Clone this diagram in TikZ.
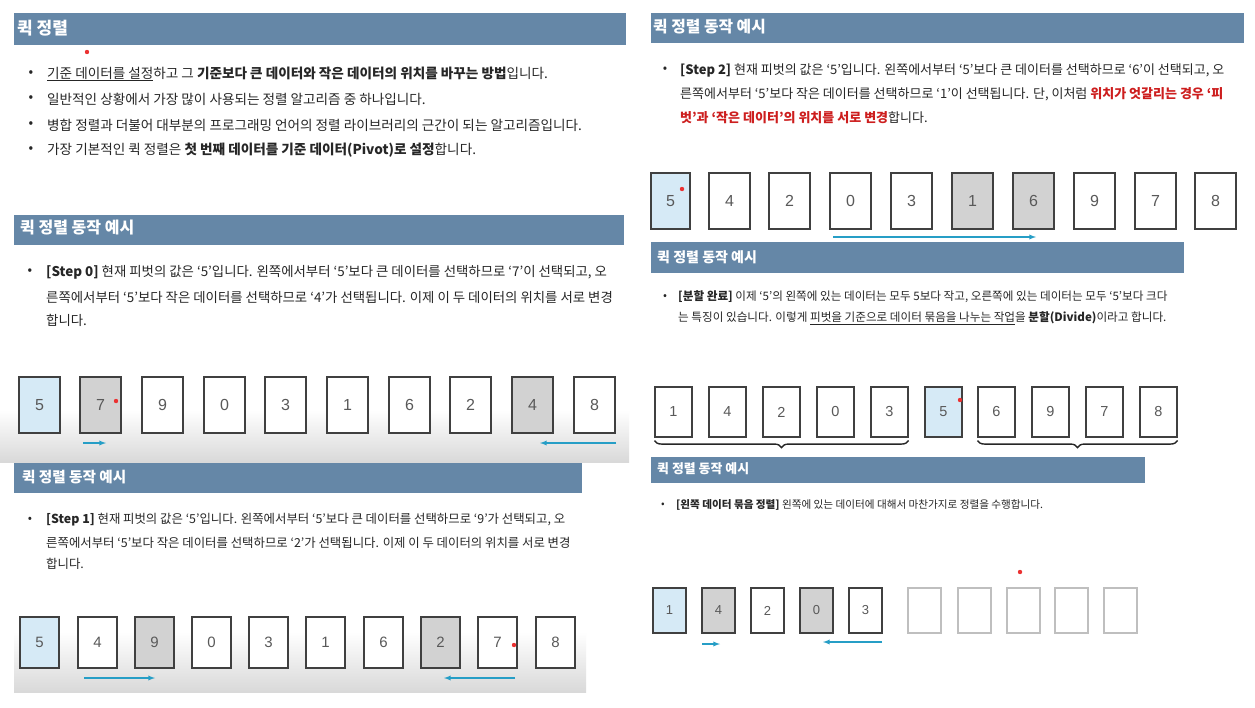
\documentclass[tikz,border=0pt]{standalone}
\usepackage{fontspec}
\setmainfont{Noto Sans CJK KR}
\newfontfamily\digitfont{Liberation Sans}
\usetikzlibrary{decorations.pathreplacing}
\definecolor{barblue}{RGB}{101,135,167}
\definecolor{pivotblue}{RGB}{214,234,246}
\definecolor{pickgray}{RGB}{210,210,210}
\definecolor{movecyan}{RGB}{38,158,198}
\definecolor{laserred}{RGB}{235,50,50}
\definecolor{keyred}{RGB}{205,30,30}
\begin{document}
\begin{tikzpicture}[x=1pt,y=-1pt]
        \tikzstyle{title}=[anchor=west,inner sep=0pt,text=white]
        \tikzstyle{line}=[anchor=west,inner sep=0pt,text=black!85]
        \tikzstyle{dot}=[anchor=center,inner sep=0pt,text=black!85]
        \tikzstyle{card}=[rectangle,draw=black!75,line width=1.1pt,fill=white,inner sep=0pt,text=black!65]
        \tikzstyle{pivot}=[card,fill=pivotblue]
        \tikzstyle{picked}=[card,fill=pickgray]
        \tikzstyle{blank}=[card,draw=black!25]
        \tikzstyle{move}=[draw=movecyan,line width=1.3pt,->,>=latex]
        \tikzstyle{laser}=[fill=laserred]

        \fill[white] (0,0) rectangle (1255,707);
        \useasboundingbox (0,0) rectangle (1255,707);

        % header bars
        \fill[barblue] (14,13) rectangle (626,45);
        \fill[barblue] (14,215) rectangle (624,245);
        \fill[barblue] (14,462) rectangle (582,493);
        \fill[barblue] (651,13) rectangle (1244,43);
        \fill[barblue] (651,242) rectangle (1184,273);
        \fill[barblue] (651,457) rectangle (1145,483);

        % shaded floors under the cards
        \shade[top color=white,bottom color=black!15] (0,410) rectangle (629,462);
        \shade[top color=white,bottom color=black!15] (14,632) rectangle (586,692);

        \node [title,font=\fontsize{17}{20}\selectfont\bfseries] (h1) at (17,28) {퀵 정렬};
        \node [title,font=\fontsize{16}{19}\selectfont\bfseries] (h2) at (20,228) {퀵 정렬 동작 예시};
        \node [title,font=\fontsize{14.6}{17}\selectfont\bfseries] (h3) at (22,477) {퀵 정렬 동작 예시};
        \node [title,font=\fontsize{15.8}{19}\selectfont\bfseries] (h4) at (653,27) {퀵 정렬 동작 예시};
        \node [title,font=\fontsize{14}{17}\selectfont\bfseries] (h5) at (657,257) {퀵 정렬 동작 예시};
        \node [title,font=\fontsize{12.9}{15}\selectfont\bfseries] (h6) at (657,469) {퀵 정렬 동작 예시};

        \begin{scope}[font=\fontsize{13.6}{16}\selectfont]
          \node [dot] (b11) at (31,74) {•};
          \node [dot] (b12) at (31,99) {•};
          \node [dot] (b13) at (31,125) {•};
          \node [dot] (b14) at (31,150) {•};
          \node [line] (t11) at (47,74) {\underline{기준 데이터를 설정}하고 그 \textbf{기준보다 큰 데이터와 작은 데이터의 위치를 바꾸는 방법}입니다.};
          \node [line] (t12) at (47,99) {일반적인 상황에서 가장 많이 사용되는 정렬 알고리즘 중 하나입니다.};
          \node [line] (t13) at (47,125) {병합 정렬과 더불어 대부분의 프로그래밍 언어의 정렬 라이브러리의 근간이 되는 알고리즘입니다.};
          \node [line] (t14) at (47,150) {가장 기본적인 퀵 정렬은 \textbf{첫 번째 데이터를 기준 데이터(Pivot)로 설정}합니다.};
        \end{scope}

        \begin{scope}[font=\fontsize{13.4}{16}\selectfont]
          \node [dot] (b21) at (30,272) {•};
          \node [line] (t21) at (46,272) {\textbf{[Step 0]} 현재 피벗의 값은 ‘5’입니다. 왼쪽에서부터 ‘5’보다 큰 데이터를 선택하므로 ‘7’이 선택되고, 오};
          \node [line] (t22) at (46,297) {른쪽에서부터 ‘5’보다 작은 데이터를 선택하므로 ‘4’가 선택됩니다. 이제 이 두 데이터의 위치를 서로 변경};
          \node [line] (t23) at (46,320) {합니다.};
        \end{scope}

        \begin{scope}[font=\fontsize{12.4}{15}\selectfont]
          \node [dot] (b31) at (30,520) {•};
          \node [line] (t31) at (46,520) {\textbf{[Step 1]} 현재 피벗의 값은 ‘5’입니다. 왼쪽에서부터 ‘5’보다 큰 데이터를 선택하므로 ‘9’가 선택되고, 오};
          \node [line] (t32) at (46,543) {른쪽에서부터 ‘5’보다 작은 데이터를 선택하므로 ‘2’가 선택됩니다. 이제 이 두 데이터의 위치를 서로 변경};
          \node [line] (t33) at (46,564) {합니다.};
        \end{scope}

        \begin{scope}[font=\fontsize{13}{16}\selectfont]
          \node [dot] (b41) at (665,70) {•};
          \node [line] (t41) at (680,70) {\textbf{[Step 2]} 현재 피벗의 값은 ‘5’입니다. 왼쪽에서부터 ‘5’보다 큰 데이터를 선택하므로 ‘6’이 선택되고, 오};
          \node [line] (t42) at (680,94) {른쪽에서부터 ‘5’보다 작은 데이터를 선택하므로 ‘1’이 선택됩니다. 단, 이처럼 \textcolor{keyred}{\textbf{위치가 엇갈리는 경우 ‘피}}};
          \node [line] (t43) at (680,118) {\textcolor{keyred}{\textbf{벗’과 ‘작은 데이터’의 위치를 서로 변경}}합니다.};
        \end{scope}

        \begin{scope}[font=\fontsize{11.6}{14}\selectfont]
          \node [dot] (b51) at (665,297) {•};
          \node [line] (t51) at (678,297) {\textbf{[분할 완료]} 이제 ‘5’의 왼쪽에 있는 데이터는 모두 5보다 작고, 오른쪽에 있는 데이터는 모두 ‘5’보다 크다};
          \node [line] (t52) at (678,318) {는 특징이 있습니다. 이렇게 \underline{피벗을 기준으로 데이터 묶음을 나누는 작업}을 \textbf{분할(Divide)}이라고 합니다.};
        \end{scope}

        \begin{scope}[font=\fontsize{10.6}{13}\selectfont]
          \node [dot] (b61) at (663,505) {•};
          \node [line] (t61) at (676,505) {\textbf{[왼쪽 데이터 묶음 정렬]} 왼쪽에 있는 데이터에 대해서 마찬가지로 정렬을 수행합니다.};
        \end{scope}

        % Step 0
        \begin{scope}[every node/.append style={minimum width=41pt,minimum height=56pt,font=\fontsize{16}{18}\selectfont\digitfont}]
          \node [pivot] (a1) at (39.5,405) {5};
          \node [picked] (a2) at (100.5,405) {7};
          \node [card] (a3) at (162.5,405) {9};
          \node [card] (a4) at (224.5,405) {0};
          \node [card] (a5) at (285.5,405) {3};
          \node [card] (a6) at (347.5,405) {1};
          \node [card] (a7) at (409.5,405) {6};
          \node [card] (a8) at (470.5,405) {2};
          \node [picked] (a9) at (532.5,405) {4};
          \node [card] (a10) at (594.5,405) {8};
        \end{scope}

        % Step 1
        \begin{scope}[every node/.append style={minimum width=39pt,minimum height=51pt,font=\fontsize{15}{17}\selectfont\digitfont}]
          \node [pivot] (c1) at (39.5,642.5) {5};
          \node [card] (c2) at (97.5,642.5) {4};
          \node [picked] (c3) at (154.5,642.5) {9};
          \node [card] (c4) at (211.5,642.5) {0};
          \node [card] (c5) at (268.5,642.5) {3};
          \node [card] (c6) at (325.5,642.5) {1};
          \node [card] (c7) at (383.5,642.5) {6};
          \node [picked] (c8) at (440.5,642.5) {2};
          \node [card] (c9) at (497.5,642.5) {7};
          \node [card] (c10) at (555.5,642.5) {8};
        \end{scope}

        % Step 2
        \begin{scope}[every node/.append style={minimum width=41pt,minimum height=56pt,font=\fontsize{16}{18}\selectfont\digitfont}]
          \node [pivot,minimum width=39pt] (d1) at (670.5,201) {5};
          \node [card] (d2) at (729.5,201) {4};
          \node [card] (d3) at (789.5,201) {2};
          \node [card] (d4) at (850.5,201) {0};
          \node [card] (d5) at (911.5,201) {3};
          \node [picked] (d6) at (972.5,201) {1};
          \node [picked] (d7) at (1033.5,201) {6};
          \node [card] (d8) at (1094.5,201) {9};
          \node [card] (d9) at (1155.5,201) {7};
          \node [card] (d10) at (1215.5,201) {8};
        \end{scope}

        % divided
        \begin{scope}[every node/.append style={minimum width=37pt,minimum height=50pt,font=\fontsize{14.5}{16}\selectfont\digitfont}]
          \node [card] (e1) at (673.5,412) {1};
          \node [card] (e2) at (727.5,412) {4};
          \node [card] (e3) at (781.5,412) {2};
          \node [card] (e4) at (835.5,412) {0};
          \node [card] (e5) at (889.5,412) {3};
          \node [pivot] (e6) at (943.5,412) {5};
          \node [card] (e7) at (996.5,412) {6};
          \node [card] (e8) at (1050.5,412) {9};
          \node [card] (e9) at (1104.5,412) {7};
          \node [card] (e10) at (1158.5,412) {8};
        \end{scope}

        % left part
        \begin{scope}[every node/.append style={minimum width=33pt,minimum height=45pt,font=\fontsize{13}{15}\selectfont\digitfont}]
          \node [pivot] (f1) at (669.5,610.5) {1};
          \node [picked] (f2) at (718.5,610.5) {4};
          \node [card] (f3) at (767.5,610.5) {2};
          \node [picked] (f4) at (816.5,610.5) {0};
          \node [card] (f5) at (865.5,610.5) {3};
          \node [blank] (f6) at (924.5,610.5) {};
          \node [blank] (f7) at (974.5,610.5) {};
          \node [blank] (f8) at (1023.5,610.5) {};
          \node [blank] (f9) at (1071.5,610.5) {};
          \node [blank] (f10) at (1120.5,610.5) {};
        \end{scope}

        \coordinate (ma1) at (83,443);  \coordinate (ma2) at (106,443);
        \coordinate (ma3) at (616,443); \coordinate (ma4) at (540,443);
        \coordinate (mc1) at (84,678);  \coordinate (mc2) at (155,678);
        \coordinate (mc3) at (515,678); \coordinate (mc4) at (444,678);
        \coordinate (md1) at (833,237); \coordinate (md2) at (1036,237);
        \coordinate (mf1) at (702,644); \coordinate (mf2) at (720,644);
        \coordinate (mf3) at (882,642); \coordinate (mf4) at (823,642);

        \draw [move] (ma1) -- (ma2);
        \draw [move] (ma3) -- (ma4);
        \draw [move] (mc1) -- (mc2);
        \draw [move] (mc3) -- (mc4);
        \draw [move] (md1) -- (md2);
        \draw [move] (mf1) -- (mf2);
        \draw [move] (mf3) -- (mf4);

        \draw [black!85,line width=1.4pt,decorate,decoration={brace,mirror,amplitude=7pt}] ([yshift=-3pt]e1.south west) -- ([yshift=-3pt]e5.south east);
        \draw [black!85,line width=1.4pt,decorate,decoration={brace,mirror,amplitude=7pt}] ([yshift=-3pt]e7.south west) -- ([yshift=-3pt]e10.south east);

        % laser pointer marks
        \fill [laser] (87,52) circle (2.2);
        \fill [laser] (116,401) circle (2.2);
        \fill [laser] (514,645) circle (2.2);
        \fill [laser] (682,189) circle (2.2);
        \fill [laser] (960,400) circle (2.2);
        \fill [laser] (1020,572) circle (2.2);
\end{tikzpicture}
\end{document}
